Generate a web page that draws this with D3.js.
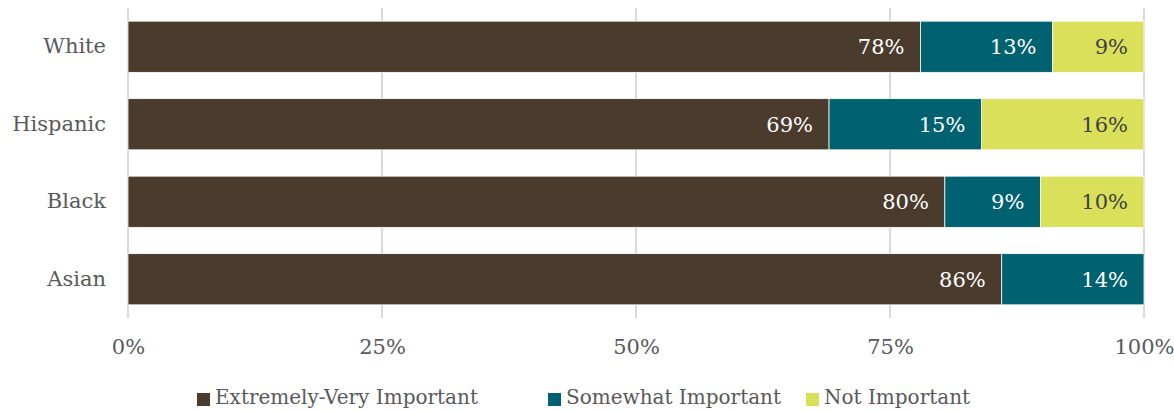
<!DOCTYPE html>
<html>
<head>
<meta charset="utf-8">
<script src="https://cdn.jsdelivr.net/npm/d3@7"></script>
<style>
  html, body { margin: 0; padding: 0; background: #fff; }
  svg { display: block; }
  text { font-family: "DejaVu Serif", "Liberation Serif", serif; }
</style>
</head>
<body>
<svg id="chart" width="1174" height="410"></svg>
<script>
// Share of respondents by group
const categories = ["White", "Hispanic", "Black", "Asian"];
const seriesNames = ["Extremely-Very Important", "Somewhat Important", "Not Important"];
const extremelyVery = [78, 69, 80.4, 86];
const somewhat      = [13, 15, 9.4, 14];
const notImportant  = [9, 16, 10.2, 0];
const tickValues = [0, 25, 50, 75, 100];
const tickLabels = ["0%", "25%", "50%", "75%", "100%"];

const colors = ["#4a3b2d", "#006170", "#dbe05a"];
const labelColors = ["#ffffff", "#ffffff", "#404040"];

const rows = categories.map((c, i) => ({
  category: c,
  [seriesNames[0]]: extremelyVery[i],
  [seriesNames[1]]: somewhat[i],
  [seriesNames[2]]: notImportant[i]
}));

const svg = d3.select("#chart");
const margin = { left: 128, right: 30, top: 8, bottom: 92 };
const W = 1174, H = 410;

const x = d3.scaleLinear().domain([0, 100]).range([margin.left, W - margin.right]);
const y = d3.scaleBand().domain(categories).range([margin.top, H - margin.bottom])
  .paddingInner(0.34).paddingOuter(0.17);

// vertical gridlines
svg.append("g").selectAll("line").data(tickValues).join("line")
  .attr("x1", d => x(d)).attr("x2", d => x(d))
  .attr("y1", margin.top).attr("y2", H - margin.bottom)
  .attr("stroke", "#d9d9d9").attr("stroke-width", 2);

// x axis labels
const xAxis = d3.axisBottom(x).tickValues(tickValues)
  .tickFormat((d, i) => tickLabels[i]).tickSize(0).tickPadding(0);
const xg = svg.append("g").attr("transform", `translate(0,${H - margin.bottom})`).call(xAxis);
xg.select(".domain").remove();
xg.selectAll("text").attr("font-size", 21).attr("fill", "#595959")
  .attr("font-family", "DejaVu Serif").attr("dy", null).attr("y", 36);

// y axis labels
const yAxis = d3.axisLeft(y).tickSize(0).tickPadding(22);
const yg = svg.append("g").attr("transform", `translate(${margin.left},0)`).call(yAxis);
yg.select(".domain").remove();
yg.selectAll("text").attr("font-size", 21).attr("fill", "#595959")
  .attr("font-family", "DejaVu Serif");

// stacked bars
const stack = d3.stack().keys(seriesNames);
const layers = stack(rows);

const layerG = svg.append("g").selectAll("g").data(layers).join("g")
  .attr("fill", (d, i) => colors[i]);

layerG.selectAll("rect").data(d => d.filter(s => s[1] - s[0] > 0)).join("rect")
  .attr("x", d => x(d[0]))
  .attr("y", d => y(d.data.category))
  .attr("width", d => x(d[1]) - x(d[0]))
  .attr("height", y.bandwidth())
  .attr("stroke", "#ffffff").attr("stroke-width", 0.75);

// value labels, right-aligned inside each segment
const fmt = v => d3.format(".0f")(v) + "%";
layers.forEach((layer, li) => {
  svg.append("g").selectAll("text").data(layer.filter(s => s[1] - s[0] > 0)).join("text")
    .attr("x", d => x(d[1]) - 16)
    .attr("y", d => y(d.data.category) + y.bandwidth() / 2)
    .attr("dy", "0.35em")
    .attr("text-anchor", "end")
    .attr("font-size", 21)
    .attr("fill", labelColors[li])
    .text(d => fmt(d[1] - d[0]));
});

// legend, one entry per series
const legendX = [197, 548, 806];
const legend = svg.append("g").attr("transform", "translate(0,404)");
const items = legend.selectAll("g").data(seriesNames).join("g")
  .attr("transform", (d, i) => `translate(${legendX[i]},0)`);
items.append("rect").attr("width", 13).attr("height", 13).attr("y", -11)
  .attr("fill", (d, i) => colors[i]);
items.append("text").attr("x", 18).attr("y", 0).attr("font-size", 20)
  .attr("fill", "#595959").text(d => d);
</script>
</body>
</html>
